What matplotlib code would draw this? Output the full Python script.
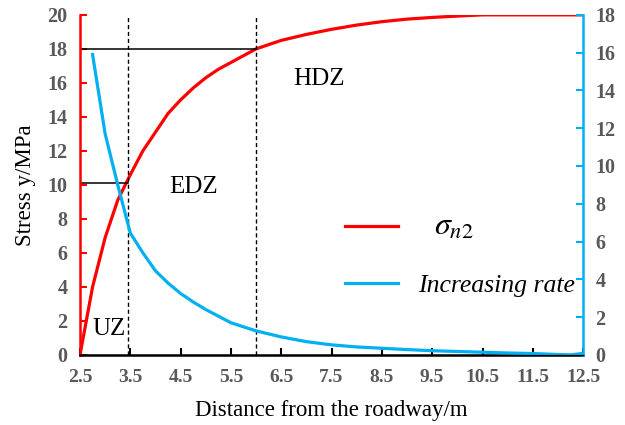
import matplotlib.pyplot as plt
from matplotlib.ticker import MultipleLocator

plt.rcParams['font.family'] = ['Liberation Serif', 'DejaVu Serif']
plt.rcParams['mathtext.fontset'] = 'stix'

# distance from roadway (m)
dist_stress = [2.5, 2.75, 3.0, 3.25, 3.5, 3.75, 4.0, 4.25, 4.5, 4.75, 5.0, 5.25, 5.5,
               5.75, 6.0, 6.5, 7.0, 7.5, 8.0, 8.5, 9.0, 9.5, 10.0, 10.5, 11.0, 11.5,
               12.0, 12.5]
stress = [0.0, 4.0, 6.9, 9.1, 10.6, 12.0, 13.1, 14.2, 15.0, 15.7, 16.3, 16.8, 17.2,
          17.6, 18.0, 18.5, 18.85, 19.15, 19.4, 19.6, 19.75, 19.85, 19.93, 20.0, 20.0,
          20.0, 20.0, 20.0]

dist_rate = [2.75, 3.0, 3.25, 3.5, 3.75, 4.0, 4.25, 4.5, 4.75, 5.0, 5.5, 6.0, 6.5, 7.0,
             7.5, 8.0, 8.5, 9.0, 9.5, 10.0, 10.5, 11.0, 11.5, 12.0, 12.25, 12.5]
rate = [15.9, 11.7, 9.0, 6.45, 5.4, 4.45, 3.8, 3.25, 2.8, 2.4, 1.7, 1.27, 0.95, 0.7,
        0.53, 0.42, 0.35, 0.28, 0.22, 0.18, 0.14, 0.1, 0.07, 0.02, 0.0, 0.08]

x_ticks = [2.5, 3.5, 4.5, 5.5, 6.5, 7.5, 8.5, 9.5, 10.5, 11.5, 12.5]
zone_edges = [3.45, 6.0]
zone_stress = [10.1, 18.0]

red = '#FF0000'
blue = '#00B0F0'
grey = '#595959'

fig = plt.figure(figsize=(6.25, 4.25), dpi=100)
ax = fig.add_axes([0.128, 0.165, 0.805, 0.8])
ax2 = ax.twinx()

l1, = ax.plot(dist_stress, stress, color=red, lw=2.3)
l2, = ax2.plot(dist_rate, rate, color=blue, lw=2.3)

for xe, ys in zip(zone_edges, zone_stress):
    ax.axvline(xe, color='black', lw=1, ls=(0, (3, 2)))
    ax.plot([2.5, xe], [ys, ys], color='black', lw=1.1)

ax.set_xlim(2.5, 12.5)
ax.set_ylim(0, 20)
ax2.set_ylim(0, 18)
ax.set_xticks(x_ticks)
ax.yaxis.set_major_locator(MultipleLocator(2))
ax2.yaxis.set_major_locator(MultipleLocator(2))

ax.spines['top'].set_visible(False)
ax2.spines['top'].set_visible(False)
ax.spines['left'].set_color(red)
ax.spines['left'].set_linewidth(1.8)
ax2.spines['left'].set_visible(False)
ax2.spines['right'].set_color(blue)
ax2.spines['right'].set_linewidth(1.8)
ax.spines['right'].set_visible(False)
ax.spines['bottom'].set_linewidth(1.8)

ax.tick_params(axis='x', direction='in', length=5, width=1.5, colors='black',
               labelcolor=grey, labelsize=14, pad=10)
ax.tick_params(axis='y', direction='in', length=5, width=1.5, colors=red,
               labelcolor=grey, labelsize=14.5, pad=9)
ax2.tick_params(axis='y', direction='in', length=5, width=1.5, colors=blue,
                labelcolor=grey, labelsize=14.5, pad=9)
for lab in ax.get_xticklabels() + ax.get_yticklabels() + ax2.get_yticklabels():
    lab.set_fontweight('bold')

ax.set_xlabel('Distance from the roadway/m', fontsize=16.5, labelpad=10)
ax.set_ylabel('Stress y/MPa', fontsize=16.5, labelpad=8)

ax.text(7.25, 16.2, 'HDZ', fontsize=18, va='center', ha='center')
ax.text(4.75, 9.9, 'EDZ', fontsize=18, va='center', ha='center')
ax.text(3.08, 1.5, 'UZ', fontsize=18, va='center', ha='center')

leg = ax2.legend([l1, l2], [r'  $\sigma_{n2}$', 'Increasing rate'],
                 loc='center right', bbox_to_anchor=(1.03, 0.294), frameon=False,
                 fontsize=18.5, handlelength=2.05, handletextpad=0.8, labelspacing=1.25)
leg.get_texts()[0].set_fontsize(23)
leg.get_texts()[1].set_fontstyle('italic')

fig.savefig('out.png', dpi=100)
